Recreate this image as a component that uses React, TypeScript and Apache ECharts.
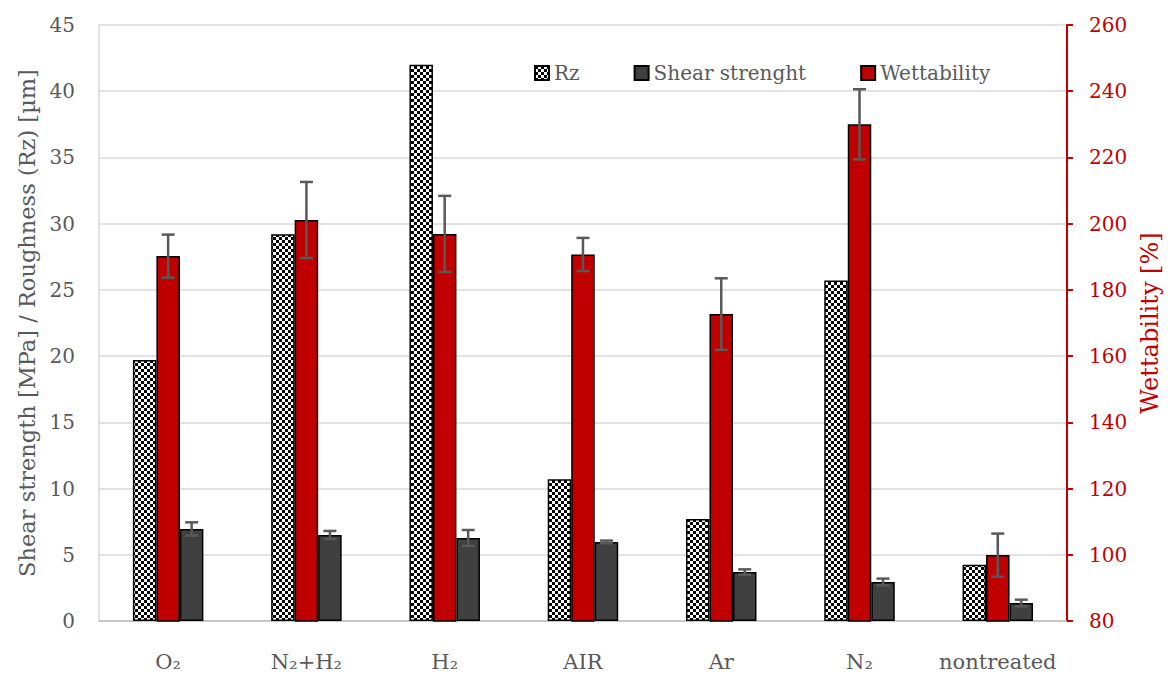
import React, { useEffect, useRef } from "react";
import * as echarts from "echarts";

const categories = ["O₂", "N₂+H₂", "H₂", "AIR", "Ar", "N₂", "nontreated"];
const rzValues = [19.7, 29.2, 42.0, 10.7, 7.7, 25.7, 4.25];
const wettValues = [190.2, 201.1, 196.9, 190.7, 172.7, 230.0, 99.9];
const wettErr = [6.5, 11.5, 11.5, 5.0, 10.8, 10.6, 6.5];
const shearValues = [6.95, 6.5, 6.27, 5.97, 3.7, 2.95, 1.36];
const shearErr = [0.5, 0.3, 0.6, 0.1, 0.2, 0.25, 0.25];
const leftTicks = { min: 0, max: 45, interval: 5 };
const rightTicks = { min: 80, max: 260, interval: 20 };

const FONT = "DejaVu Serif";
const GRAY = "#595959";
const RED = "#c00000";
const DARK = "#404040";
const BAR_W = 23.5;

function makeChecker() {
  const c = document.createElement("canvas");
  c.width = 6;
  c.height = 6;
  const ctx = c.getContext("2d")!;
  ctx.fillStyle = "#ffffff";
  ctx.fillRect(0, 0, 6, 6);
  ctx.fillStyle = "#000000";
  ctx.fillRect(0, 0, 3, 3);
  ctx.fillRect(3, 3, 3, 3);
  return c;
}

function errSeries(name: string, vals: number[], errs: number[], yAxisIndex: number, offset: number) {
  return {
    type: "custom",
    name: name + " err",
    yAxisIndex,
    z: 10,
    silent: true,
    encode: { x: 0, y: [1, 2] },
    data: vals.map((v, i) => [i, v - errs[i], v + errs[i]]),
    renderItem: (params: any, api: any) => {
      const idx = api.value(0);
      const pLo = api.coord([idx, api.value(1)]);
      const pHi = api.coord([idx, api.value(2)]);
      const x = pHi[0] + offset;
      const cap = 6.5;
      const style = { stroke: GRAY, lineWidth: 2.5 };
      return {
        type: "group",
        children: [
          { type: "line", shape: { x1: x, y1: pHi[1], x2: x, y2: pLo[1] }, style },
          { type: "line", shape: { x1: x - cap, y1: pHi[1], x2: x + cap, y2: pHi[1] }, style },
          { type: "line", shape: { x1: x - cap, y1: pLo[1], x2: x + cap, y2: pLo[1] }, style },
        ],
      };
    },
  };
}

export default function App() {
  const ref = useRef<HTMLDivElement>(null);
  useEffect(() => {
    const chart = echarts.init(ref.current!, undefined, { renderer: "svg" });
    const checker = makeChecker();
    const border = { borderColor: "#000000", borderWidth: 1.5 };
    chart.setOption({
      animation: false,
      backgroundColor: "#ffffff",
      grid: { left: 99, right: 103, top: 25, bottom: 56 },
      legend: {
        left: 529,
        top: 58,
        itemWidth: 14,
        itemHeight: 14,
        itemGap: 54,
        icon: "rect",
        data: ["Rz", "Shear strenght", "Wettability"],
        textStyle: { fontFamily: FONT, fontSize: 20, color: GRAY },
      },
      xAxis: {
        type: "category",
        data: categories,
        axisLine: { lineStyle: { color: "#bfbfbf", width: 1.5 } },
        axisTick: { show: false },
        axisLabel: { fontFamily: FONT, fontSize: 21, color: GRAY, margin: 30, interval: 0 },
      },
      yAxis: [
        {
          type: "value",
          ...leftTicks,
          name: "Shear strength [MPa] / Roughness (Rz) [µm]",
          nameLocation: "middle",
          nameGap: 59,
          nameRotate: 90,
          nameTextStyle: { fontFamily: FONT, fontSize: 22.5, color: GRAY },
          axisLine: { show: true, lineStyle: { color: "#d9d9d9", width: 1.5 } },
          axisTick: { show: false },
          axisLabel: { fontFamily: FONT, fontSize: 20, color: GRAY, margin: 24 },
          splitLine: { lineStyle: { color: "#d9d9d9", width: 1.5 } },
        },
        {
          type: "value",
          ...rightTicks,
          position: "right",
          name: "Wettability [%]",
          nameLocation: "middle",
          nameGap: 70,
          nameRotate: 90,
          nameTextStyle: { fontFamily: FONT, fontSize: 24, color: RED },
          axisLine: { show: true, lineStyle: { color: RED, width: 2 } },
          axisTick: { show: true, inside: false, length: 6, lineStyle: { color: RED, width: 2 } },
          axisLabel: { fontFamily: FONT, fontSize: 20, color: RED, margin: 22 },
          splitLine: { show: false },
        },
      ],
      series: [
        {
          type: "bar",
          name: "Rz",
          yAxisIndex: 0,
          barWidth: BAR_W,
          barGap: "0%",
          data: rzValues,
          itemStyle: { color: { image: checker, repeat: "repeat" }, ...border },
        },
        {
          type: "bar",
          name: "Wettability",
          yAxisIndex: 1,
          barWidth: BAR_W,
          barGap: "0%",
          data: wettValues,
          itemStyle: { color: RED, ...border },
        },
        {
          type: "bar",
          name: "Shear strenght",
          yAxisIndex: 0,
          barWidth: BAR_W,
          barGap: "0%",
          data: shearValues,
          itemStyle: { color: DARK, ...border },
        },
        errSeries("Wettability", wettValues, wettErr, 1, 0),
        errSeries("Shear", shearValues, shearErr, 0, BAR_W),
      ],
    });
    return () => chart.dispose();
  }, []);
  return <div ref={ref} style={{ width: 1170, height: 677, position: "absolute", left: 0, top: 0 }} />;
}
